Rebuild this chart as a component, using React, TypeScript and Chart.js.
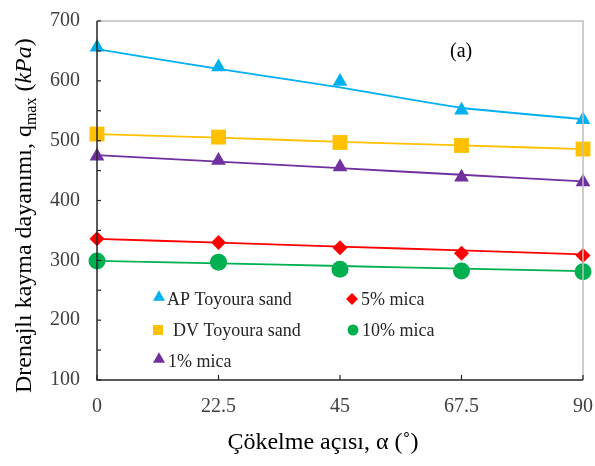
import { useEffect, useRef } from "react";
import { Chart, registerables } from "chart.js";

Chart.register(...registerables);

// Sedimentation angle (degrees)
const ANGLES = [0, 22.5, 45, 67.5, 90];
const Y_TICKS = [100, 200, 300, 400, 500, 600, 700];

// Measured peak strength q_max (kPa)
const AP_SAND = [656, 623, 599, 551, 535];
const DV_SAND = [511, 506, 497, 492, 486];
const MICA_1 = [474, 467, 456, 439, 431];
const MICA_5 = [336, 330, 321, 312, 308];
const MICA_10 = [299, 297, 285, 282, 281];

// Fitted trend lines
const AP_FIT = [653, 620, 589, 555, 536];
const DV_FIT = [511, 505, 498, 492, 486];
const MICA_1_FIT = [476, 465, 454, 443, 432];
const MICA_5_FIT = [336, 329.5, 323, 316.5, 310];
const MICA_10_FIT = [299, 295, 290.5, 286, 282];

const SERIES_NAMES = ["AP Toyoura sand", "DV Toyoura sand", "1% mica", "5% mica", "10% mica"];
const COLORS = ["#00B0F0", "#FFC000", "#7030A0", "#FF0000", "#00B050"];

const SERIF = '"Liberation Serif", "Times New Roman", serif';

type Shape = "triangle" | "rect" | "rectRot" | "circle";
const SHAPES: Shape[] = ["triangle", "rect", "triangle", "rectRot", "circle"];
const RADII = [8.5, 10.5, 8.5, 7.5, 8.5];

function drawMarker(ctx: CanvasRenderingContext2D, shape: Shape, x: number, y: number, s: number) {
  ctx.beginPath();
  if (shape === "triangle") {
    const r = s / 1.732;
    const cy = y - r / 4;
    ctx.moveTo(x, cy - r);
    ctx.lineTo(x + r * 0.866, cy + r / 2);
    ctx.lineTo(x - r * 0.866, cy + r / 2);
    ctx.closePath();
  } else if (shape === "rect") {
    ctx.rect(x - s / 2, y - s / 2, s, s);
  } else if (shape === "rectRot") {
    const h = s / 2;
    ctx.moveTo(x, y - h);
    ctx.lineTo(x + h, y);
    ctx.lineTo(x, y + h);
    ctx.lineTo(x - h, y);
    ctx.closePath();
  } else {
    ctx.arc(x, y, s / 2, 0, Math.PI * 2);
  }
  ctx.fill();
}

const decorPlugin = {
  id: "decor",
  afterDraw(chart: any) {
    const ctx: CanvasRenderingContext2D = chart.ctx;
    const { left, right, top, bottom } = chart.chartArea;
    const xs = chart.scales.x;
    const ys = chart.scales.y;
    ctx.save();

    // frame
    ctx.lineWidth = 1.5;
    ctx.strokeStyle = "#bfbfbf";
    ctx.beginPath();
    ctx.moveTo(left, top);
    ctx.lineTo(right, top);
    ctx.lineTo(right, bottom);
    ctx.stroke();
    ctx.strokeStyle = "#262626";
    ctx.beginPath();
    ctx.moveTo(left, top);
    ctx.lineTo(left, bottom);
    ctx.lineTo(right, bottom);
    ctx.stroke();

    // inward tick marks
    ctx.lineWidth = 1.2;
    for (let v = 100; v <= 700; v += 50) {
      const py = ys.getPixelForValue(v);
      ctx.beginPath();
      ctx.moveTo(left, py);
      ctx.lineTo(left + 4, py);
      ctx.stroke();
    }
    for (const a of ANGLES) {
      const px = xs.getPixelForValue(a);
      ctx.beginPath();
      ctx.moveTo(px, bottom);
      ctx.lineTo(px, bottom - 5);
      ctx.stroke();
    }

    // legend
    const entries = [
      { i: 0, mx: 159, tx: 167, y: 299 },
      { i: 1, mx: 158, tx: 173, y: 330 },
      { i: 2, mx: 159, tx: 168, y: 361 },
      { i: 3, mx: 352, tx: 361, y: 299 },
      { i: 4, mx: 353, tx: 362, y: 330 },
    ];
    const legendSizes = [12, 10, 12, 12, 11];
    ctx.font = `18px ${SERIF}`;
    ctx.textBaseline = "middle";
    ctx.textAlign = "left";
    for (const e of entries) {
      ctx.fillStyle = COLORS[e.i];
      drawMarker(ctx, SHAPES[e.i], e.mx, e.y, legendSizes[e.i]);
      ctx.fillStyle = "#262626";
      ctx.fillText(SERIES_NAMES[e.i], e.tx, e.y + 1);
    }

    // panel label
    ctx.font = `20px ${SERIF}`;
    ctx.fillStyle = "#000";
    ctx.fillText("(a)", 450, 52);

    // x-axis title
    ctx.font = `24px ${SERIF}`;
    ctx.textAlign = "center";
    ctx.textBaseline = "alphabetic";
    ctx.fillText("Çökelme açısı, α (˚)", 323, 449);

    // y-axis title
    ctx.translate(31, 393);
    ctx.rotate(-Math.PI / 2);
    ctx.textAlign = "left";
    let cx = 0;
    const seg = (t: string, font: string, dy = 0) => {
      ctx.font = font;
      ctx.fillText(t, cx, dy);
      cx += ctx.measureText(t).width;
    };
    seg("Drenajlı kayma dayanımı, q", `24px ${SERIF}`);
    seg("max", `16px ${SERIF}`, 5);
    seg(" (", `24px ${SERIF}`);
    seg("kPa", `italic 24px ${SERIF}`);
    seg(")", `24px ${SERIF}`);

    ctx.restore();
  },
};

export default function App() {
  const ref = useRef<HTMLCanvasElement | null>(null);

  useEffect(() => {
    if (!ref.current) return;
    const measured = [AP_SAND, DV_SAND, MICA_1, MICA_5, MICA_10];
    const fits = [AP_FIT, DV_FIT, MICA_1_FIT, MICA_5_FIT, MICA_10_FIT];

    const pointSets = measured.map((vals, i) => ({
      label: SERIES_NAMES[i],
      data: ANGLES.map((a, k) => ({ x: a, y: vals[k] })),
      showLine: false,
      pointStyle: SHAPES[i],
      pointRadius: RADII[i],
      pointHoverRadius: RADII[i],
      pointBackgroundColor: COLORS[i],
      pointBorderColor: COLORS[i],
      pointBorderWidth: 0,
      backgroundColor: COLORS[i],
      borderColor: COLORS[i],
      clip: false as any,
    }));
    const lineSets = fits.map((vals, i) => ({
      label: SERIES_NAMES[i] + " fit",
      data: ANGLES.map((a, k) => ({ x: a, y: vals[k] })),
      showLine: true,
      pointRadius: 0,
      borderColor: COLORS[i],
      borderWidth: 1.8,
      tension: 0.2,
      clip: false as any,
    }));

    const chart = new Chart(ref.current, {
      type: "scatter",
      data: { datasets: [...pointSets, ...lineSets] as any },
      options: {
        animation: false,
        responsive: false,
        layout: { padding: { left: 0, right: 12, top: 21, bottom: 0 } },
        plugins: { legend: { display: false }, tooltip: { enabled: false } },
        scales: {
          x: {
            type: "linear",
            min: 0,
            max: 90,
            grid: { display: false, drawTicks: false },
            border: { display: false },
            afterBuildTicks: (s: any) => {
              s.ticks = ANGLES.map((v) => ({ value: v }));
            },
            afterFit: (s: any) => {
              s.height = 86;
              s.paddingLeft = 0;
              s.paddingRight = 0;
            },
            ticks: {
              padding: 15,
              color: "#404040",
              font: { family: SERIF, size: 20 },
              maxRotation: 0,
              callback: (v: any) => String(v),
            },
          },
          y: {
            type: "linear",
            min: 100,
            max: 700,
            grid: { display: false, drawTicks: false },
            border: { display: false },
            afterBuildTicks: (s: any) => {
              s.ticks = Y_TICKS.map((v) => ({ value: v }));
            },
            afterFit: (s: any) => {
              s.width = 97;
              s.paddingTop = 0;
              s.paddingBottom = 0;
            },
            ticks: {
              padding: 17,
              color: "#404040",
              font: { family: SERIF, size: 20 },
              callback: (v: any) => String(v),
            },
          },
        },
      },
      plugins: [decorPlugin],
    });
    return () => chart.destroy();
  }, []);

  return (
    <div style={{ position: "absolute", left: 0, top: 0, width: 595, height: 466, background: "#fff" }}>
      <canvas ref={ref} width={595} height={466} />
    </div>
  );
}
